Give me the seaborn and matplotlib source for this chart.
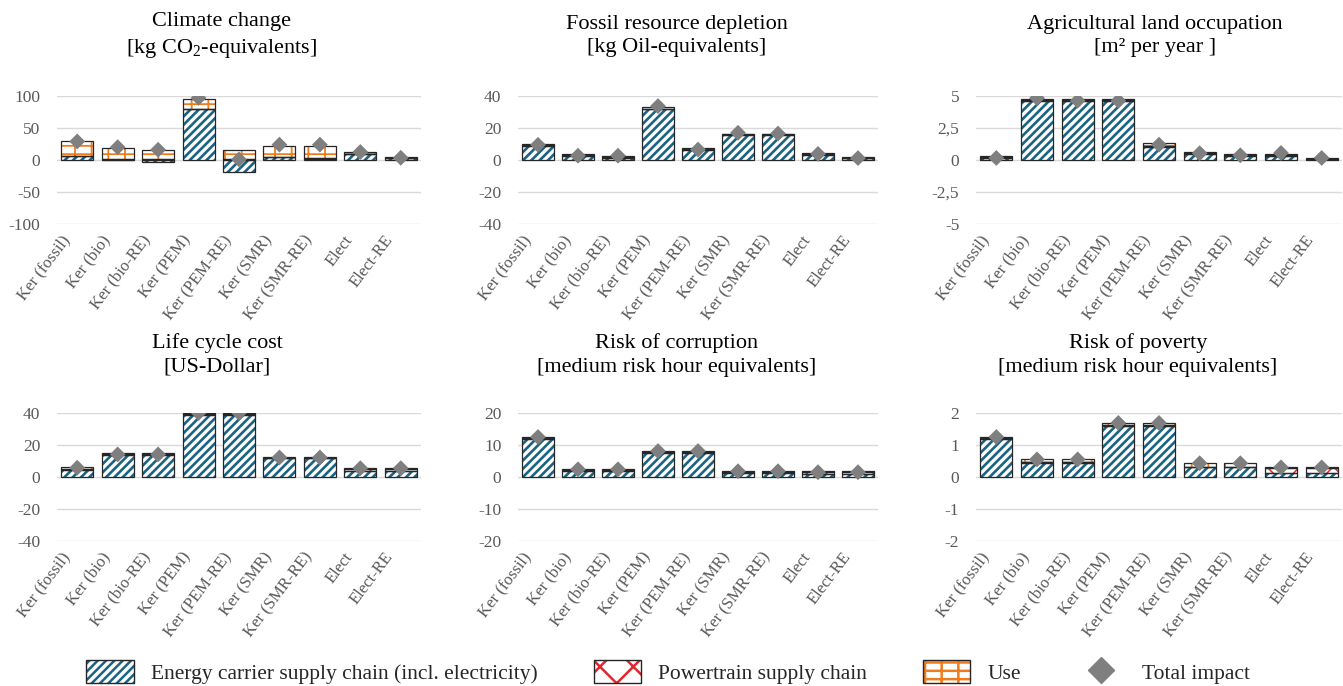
import numpy as np
import pandas as pd
import matplotlib
matplotlib.use("Agg")
import matplotlib.pyplot as plt
import seaborn as sns
from matplotlib.patches import Patch
from matplotlib.lines import Line2D

categorias = ['Ker (fossil)', 'Ker (bio)', 'Ker (bio-RE)', 'Ker (PEM)', 'Ker (PEM-RE)',
              'Ker (SMR)', 'Ker (SMR-RE)', 'Elect', 'Elect-RE']

# Climate change [kg CO2-eq]
cc_energia = [6, 0.5, -3, 79, -19, 4, 2, 9, 3]
cc_tren = [1, 1, 1, 1, 1, 1, 1, 0.5, 0.5]
cc_uso = [22, 17, 15, 15, 14, 17, 19, 3, 1]
cc_total = [29, 20, 16, 97, 1, 24, 24, 12.5, 3.5]

# Fossil resource depletion [kg oil-eq]
fd_energia = [8.7, 2.5, 1.5, 31.6, 6.5, 15.6, 15.6, 3.2, 1.0]
fd_tren = [0.5, 0.4, 0.4, 0.5, 0.4, 0.4, 0.4, 0.4, 0.4]
fd_uso = [0.9, 0.9, 0.6, 0.9, 0.7, 0.4, 0.4, 0.8, 0.5]
fd_total = [9.5, 2.7, 2.7, 33.7, 6.5, 17, 16.5, 3.8, 1.2]

# Agricultural land occupation [m2 per year]
al_energia = [0.15, 4.58, 4.58, 4.58, 1.05, 0.47, 0.32, 0.32, 0.08]
al_tren = [0.05, 0.08, 0.08, 0.08, 0.06, 0.05, 0.05, 0.05, 0.03]
al_uso = [0.12, 0.1, 0.1, 0.1, 0.18, 0.14, 0.1, 0.1, 0.05]
al_total = [0.16, 4.84, 4.63, 4.63, 1.2, 0.53, 0.37, 0.55, 0.16]

# Life cycle cost [US-Dollar]
lcc_energia = [4.5, 13.8, 13.8, 38.8, 38.8, 11.6, 11.6, 3.6, 3.6]
lcc_tren = [0.5, 0.4, 0.4, 0.6, 0.6, 0.5, 0.5, 1.5, 1.5]
lcc_uso = [1.0, 0.9, 0.9, 0.6, 0.6, 0.5, 0.5, 0.5, 0.5]
lcc_total = [5.8, 14.1, 14.1, 40, 40, 12.2, 12.2, 5.5, 5.5]

# Risk of corruption [mrh-eq]
rc_energia = [12.0, 2.0, 2.0, 7.6, 7.6, 1.3, 1.3, 0.8, 0.8]
rc_tren = [0.3, 0.3, 0.3, 0.3, 0.3, 0.4, 0.4, 0.8, 0.8]
rc_uso = [0.2, 0.2, 0.2, 0.2, 0.2, 0.2, 0.2, 0.2, 0.2]
rc_total = [12.5, 2.4, 2.4, 8.1, 8.1, 1.8, 1.8, 1.5, 1.5]

# Risk of poverty [mrh-eq]
rp_energia = [1.19, 0.43, 0.43, 1.58, 1.58, 0.30, 0.30, 0.12, 0.12]
rp_tren = [0.03, 0.03, 0.03, 0.04, 0.04, 0.02, 0.02, 0.16, 0.16]
rp_uso = [0.03, 0.10, 0.10, 0.07, 0.07, 0.11, 0.11, 0.02, 0.02]
rp_total = [1.25, 0.55, 0.55, 1.69, 1.69, 0.43, 0.43, 0.30, 0.30]

titulos = ['Climate change\n[kg CO$_\\mathrm{2}$-equivalents]',
           'Fossil resource depletion\n[kg Oil-equivalents]',
           'Agricultural land occupation\n[m² per year ]',
           'Life cycle cost\n[US-Dollar]',
           'Risk of corruption\n[medium risk hour equivalents]',
           'Risk of poverty\n[medium risk hour equivalents]']

yticks = [[-100, -50, 0, 50, 100], [-40, -20, 0, 20, 40], [-5, -2.5, 0, 2.5, 5],
          [-40, -20, 0, 20, 40], [-20, -10, 0, 10, 20], [-2, -1, 0, 1, 2]]
ytick_labels = [['-100', '-50', '0', '50', '100'], ['-40', '-20', '0', '20', '40'],
                ['-5', '-2,5', '0', '2,5', '5'], ['-40', '-20', '0', '20', '40'],
                ['-20', '-10', '0', '10', '20'], ['-2', '-1', '0', '1', '2']]

TEAL = '#1b6383'
NARANJA = '#f07c1c'
ROJO = '#e0262e'
GRIS = '#7f7f7f'
BORDE = '#262626'
TEXTO = '#595959'

sns.set_theme(style="white")
plt.rcParams['font.family'] = ['Liberation Serif', 'DejaVu Serif']
plt.rcParams['mathtext.fontset'] = 'custom'
plt.rcParams['mathtext.rm'] = 'Liberation Serif'
plt.rcParams['hatch.linewidth'] = 1.8

segmentos = [(TEAL, '////', 1.9), (ROJO, 'x', 1.1), (NARANJA, '--|', 1.3)]


def poner_hatch_lw(barras, lw):
    for b in barras:
        if hasattr(b, 'set_hatch_linewidth'):
            b.set_hatch_linewidth(lw)


def dibujar_panel(ax, series, total, ticks, labels):
    x = np.arange(len(categorias))
    pos = np.zeros(len(x))
    neg = np.zeros(len(x))
    for vals, (color, hatch, lw) in zip(series, segmentos):
        vals = np.array(vals, dtype=float)
        bottom = np.where(vals >= 0, pos, neg)
        barras = ax.bar(x, vals, bottom=bottom, width=0.79, color='white',
                        edgecolor=color, hatch=hatch, linewidth=0, zorder=2)
        poner_hatch_lw(barras, lw)
        ax.bar(x, vals, bottom=bottom, width=0.79, fill=False,
               edgecolor=BORDE, linewidth=0.9, zorder=3)
        pos += np.where(vals >= 0, vals, 0)
        neg += np.where(vals < 0, vals, 0)
    df = pd.DataFrame({'cat': x, 'total': total})
    sns.scatterplot(data=df, x='cat', y='total', marker='D', s=65, color=GRIS,
                    edgecolor='none', zorder=4, ax=ax, legend=False)
    ax.set_xlim(-0.5, len(x) - 0.5)
    ax.set_ylim(ticks[0], ticks[-1])
    ax.set_yticks(ticks)
    ax.set_yticklabels(labels)
    # labels end a bit to the left of each category centre, as in the original
    ax.set_xticks(x - 0.42)
    ax.set_xticklabels(categorias, rotation=53, ha='right', rotation_mode='anchor')
    ax.tick_params(axis='both', length=0, labelsize=12.5, labelcolor=TEXTO)
    ax.tick_params(axis='x', labelsize=12, pad=6)
    ax.tick_params(axis='y', pad=12)
    ax.yaxis.grid(True, color='#d9d9d9', linewidth=1)
    ax.xaxis.grid(False)
    ax.set_axisbelow(True)
    ax.set_xlabel('')
    ax.set_ylabel('')
    for s in ax.spines.values():
        s.set_visible(False)


W, H = 1343, 686
fig = plt.figure(figsize=(W / 100, H / 100), dpi=100)

cols = [(57, 364), (518, 360), (976, 366)]
filas = [(96, 224), (413, 541)]
titulo_x = [[222, 677, 1155], [217, 677, 1138]]
titulo_y = [36, 355]

datos = [
    ([cc_energia, cc_tren, cc_uso], cc_total),
    ([fd_energia, fd_tren, fd_uso], fd_total),
    ([al_energia, al_tren, al_uso], al_total),
    ([lcc_energia, lcc_tren, lcc_uso], lcc_total),
    ([rc_energia, rc_tren, rc_uso], rc_total),
    ([rp_energia, rp_tren, rp_uso], rp_total),
]

for i, (series, total) in enumerate(datos):
    fila, col = divmod(i, 3)
    x0, w = cols[col]
    top, bot = filas[fila]
    ax = fig.add_axes([x0 / W, 1 - bot / H, w / W, (bot - top) / H])
    dibujar_panel(ax, series, total, yticks[i], ytick_labels[i])
    fig.text(titulo_x[fila][col] / W, 1 - titulo_y[fila] / H, titulos[i],
             ha='center', va='center', fontsize=16, linespacing=1.35, color='black')

borde = Patch(fill=False, edgecolor=BORDE, linewidth=1)
h_ec = Patch(facecolor='white', edgecolor=TEAL, hatch='////', linewidth=0)
h_pt = Patch(facecolor='white', edgecolor=ROJO, hatch='x', linewidth=0)
h_uso = Patch(facecolor='white', edgecolor=NARANJA, hatch='--|', linewidth=0)
for h, (c, hh, lw) in zip([h_ec, h_pt, h_uso], segmentos):
    poner_hatch_lw([h], lw)
h_tot = Line2D([], [], marker='D', color=GRIS, linestyle='none', markersize=13)

fig.legend([(h_ec, borde), (h_pt, borde), (h_uso, borde), h_tot],
           ['Energy carrier supply chain (incl. electricity)', 'Powertrain supply chain',
            'Use', 'Total impact'],
           loc='center', bbox_to_anchor=(668 / W, 1 - 672 / H), ncol=4, frameon=False,
           fontsize=15.5, handlelength=2.2, handleheight=1.3, handletextpad=0.8,
           columnspacing=2.6)

fig.savefig('out.png', dpi=100)
